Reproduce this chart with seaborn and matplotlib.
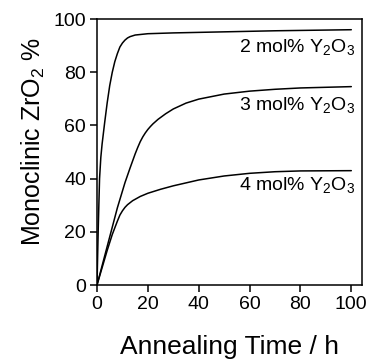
import numpy as np
import pandas as pd
import matplotlib
matplotlib.use("Agg")
import matplotlib.pyplot as plt
import seaborn as sns

sns.set_style("ticks", rc={"text.color": "black", "axes.labelcolor": "black",
                           "xtick.color": "black", "ytick.color": "black",
                           "axes.edgecolor": "black"})
plt.rcParams['font.family'] = ['Liberation Sans', 'DejaVu Sans']
plt.rcParams['mathtext.fontset'] = 'custom'
plt.rcParams['mathtext.rm'] = 'Liberation Sans'
plt.rcParams['mathtext.it'] = 'Liberation Sans'

t2 = [0, 0.5, 1, 1.5, 2, 3, 4, 5, 6, 7, 8, 9, 10, 11, 12, 13, 15, 20, 30, 50, 70, 100]
y2 = [0, 22, 40, 48, 53, 61, 68.5, 75, 80, 84, 87, 89.5, 91, 92.1, 92.9, 93.4, 94.0, 94.5, 94.8, 95.2, 95.6, 96.0]

t3 = [0, 4, 8, 11, 13, 15, 16, 17, 18, 19, 20, 21, 22, 24, 27, 30, 35, 40, 50, 60, 70, 80, 100]
y3 = [0, 14.5, 29, 38.5, 44, 49.3, 51.7, 53.9, 55.7, 57.2, 58.5, 59.6, 60.6, 62.3, 64.4, 66.2, 68.4, 69.9, 71.8, 72.9, 73.6, 74.1, 74.6]

t4 = [0, 2, 4, 6, 8, 9, 10, 11, 12, 14, 17, 20, 25, 30, 40, 50, 60, 70, 80, 100]
y4 = [0, 6.5, 13, 19, 24, 26.3, 27.9, 29.2, 30.2, 31.7, 33.3, 34.5, 36, 37.3, 39.5, 41, 42, 42.6, 42.9, 43.0]

labels = ["2 mol% Y$_2$O$_3$", "3 mol% Y$_2$O$_3$", "4 mol% Y$_2$O$_3$"]
label_y = [87.7, 65.8, 35.7]

fig = plt.figure(figsize=(3.69, 3.60), dpi=100)
ax = fig.add_axes([0.2629, 0.2083, 0.981 - 0.2629, 0.947 - 0.2083])

for t, y in [(t2, y2), (t3, y3), (t4, y4)]:
    df = pd.DataFrame({"t": t, "y": y})
    sns.lineplot(data=df, x="t", y="y", ax=ax, color="black", linewidth=1.1,
                 estimator=None, sort=False)

for lab, ly in zip(labels, label_y):
    ax.text(101.4, ly, lab, ha="right", va="baseline", fontsize=14)

ax.set_xlim(0, 104.2)
ax.set_ylim(0, 100)
ax.set_xticks([0, 20, 40, 60, 80, 100])
ax.set_yticks([0, 20, 40, 60, 80, 100])
ax.tick_params(axis="both", direction="out", length=5, width=1.1, labelsize=14,
               top=False, right=False, pad=3)
for s in ax.spines.values():
    s.set_visible(True)
    s.set_linewidth(1.1)
    s.set_color("black")
ax.set_xlabel("Annealing Time / h", fontsize=19, labelpad=16)
ax.set_ylabel("Monoclinic ZrO$_2$ %", fontsize=18)
ax.yaxis.set_label_coords(-0.19, 0.54)

fig.savefig("out.png", dpi=100)
